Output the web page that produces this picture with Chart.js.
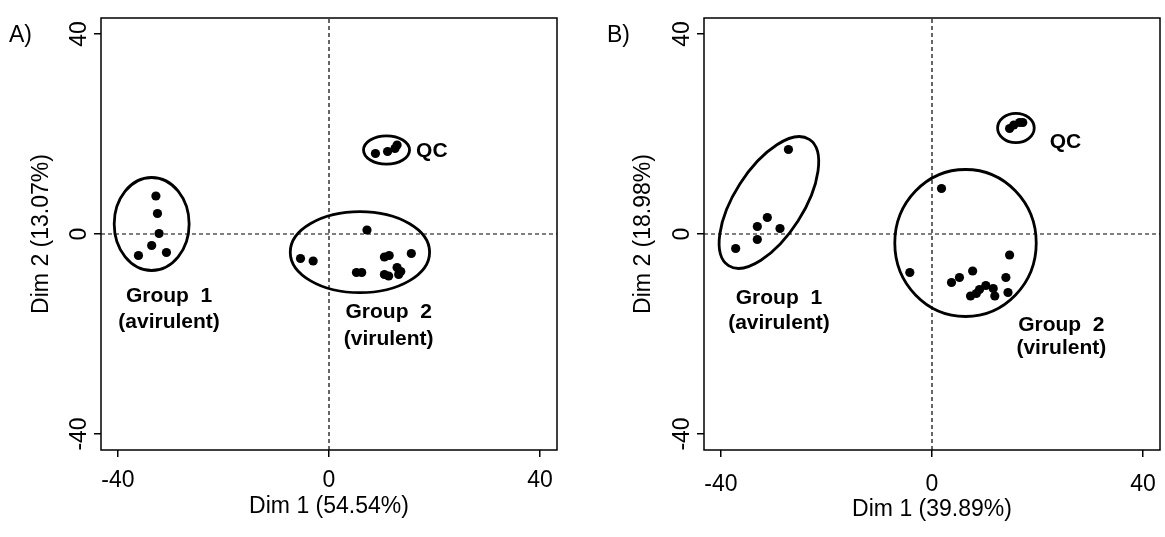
<!DOCTYPE html>
<html lang="en">
<head>
<meta charset="UTF-8">
<title>PCA scores</title>
<script src="https://cdn.jsdelivr.net/npm/chart.js"></script>
<style>
    body { margin: 0; background: #fff; }
    .janela { position: relative; width: 1165px; height: 537px; overflow: hidden; }
    .painel { position: absolute; top: 0; height: 537px; }
    .letra { position: absolute; top: 21px; font: 23px "Liberation Sans", Arial, sans-serif; color: #000; }
</style>
</head>
<body>
<div class="janela">
    <div class="painel" style="left:0; width:580px;"><canvas id="graficoA"></canvas></div>
    <div class="painel" style="left:580px; width:600px;"><canvas id="graficoB"></canvas></div>
    <div class="letra" style="left:9px;">A)</div>
    <div class="letra" style="left:607px;">B)</div>
</div>

<script>
    // axis range and ticks (same on both panels)
    const limite = 43.2;
    const tickValues = [-40, 0, 40];

    // panel A
    const aTituloX = 'Dim 1 (54.54%)';
    const aTituloY = 'Dim 2 (13.07%)';
    const aGrupo1X = [-32.8, -32.5, -32.2, -33.6, -36.1, -30.8];
    const aGrupo1Y = [7.6, 4.1, 0.1, -2.3, -4.3, -3.7];
    const aQcX = [8.8, 11.1, 12.9, 12.5];
    const aQcY = [16.1, 16.5, 17.8, 17.1];
    const aGrupo2X = [7.2, -5.4, -3.0, 5.2, 6.2, 10.5, 11.4, 15.6, 10.5, 11.3, 12.9, 13.6, 13.2];
    const aGrupo2Y = [0.8, -4.9, -5.4, -7.7, -7.7, -4.6, -4.3, -3.9, -8.1, -8.4, -6.7, -7.5, -8.1];

    // panel B
    const bTituloX = 'Dim 1 (39.89%)';
    const bTituloY = 'Dim 2 (18.98%)';
    const bGrupo1X = [-27.2, -31.2, -33.1, -28.8, -33.1, -37.2];
    const bGrupo1Y = [16.9, 3.3, 1.5, 1.1, -1.1, -2.9];
    const bQcX = [14.7, 15.5, 16.6, 17.2];
    const bQcY = [21.1, 21.8, 22.3, 22.3];
    const bGrupo2X = [1.8, 14.7, -4.2, 7.7, 5.2, 3.7, 14.0, 14.4, 7.3, 8.4, 9.0, 10.2, 11.6, 11.9];
    const bGrupo2Y = [9.1, -4.2, -7.7, -7.4, -8.7, -9.7, -8.7, -11.7, -12.4, -11.9, -11.1, -10.3, -10.9, -12.4];

    const fonte = '"Liberation Sans", Arial, sans-serif';
    Chart.defaults.font.family = fonte;
    Chart.defaults.color = '#000';

    function pontos(xs, ys) {
        let res = [];
        for (let i = 0; i < xs.length; i++) {
            res.push({ x: xs[i], y: ys[i] });
        }
        return res;
    }

    function grupo(xs, ys) {
        return {
            type: 'scatter',
            data: pontos(xs, ys),
            backgroundColor: '#000',
            borderColor: '#000',
            pointRadius: 4.6,
            pointHoverRadius: 4.6,
            borderWidth: 0
        };
    }

    function tracejada(dados) {
        return {
            type: 'line',
            data: dados,
            borderColor: '#000',
            borderWidth: 1.2,
            borderDash: [4, 3],
            pointRadius: 0,
            fill: false
        };
    }

    // ellipses, labels and the frame
    const extras = {
        id: 'extras',
        afterDatasetsDraw(chart, args, opts) {
            const ctx = chart.ctx;
            const a = chart.chartArea;
            const x = chart.scales.x;
            const y = chart.scales.y;

            ctx.save();
            ctx.strokeStyle = '#000';
            ctx.fillStyle = '#000';

            ctx.lineWidth = 1.5;
            ctx.strokeRect(a.left, a.top, a.right - a.left, a.bottom - a.top);

            ctx.lineWidth = 2.8;
            opts.elipses.forEach(function (e) {
                const cx = x.getPixelForValue(e.cx);
                const cy = y.getPixelForValue(e.cy);
                const rx = Math.abs(x.getPixelForValue(e.cx + e.rx) - cx);
                const ry = Math.abs(y.getPixelForValue(e.cy + e.ry) - cy);
                ctx.beginPath();
                ctx.ellipse(cx, cy, rx, ry, -(e.ang || 0) * Math.PI / 180, 0, 2 * Math.PI);
                ctx.stroke();
            });

            ctx.font = 'bold 21px ' + fonte;
            ctx.textBaseline = 'middle';
            opts.rotulos.forEach(function (r) {
                ctx.textAlign = r.align || 'center';
                ctx.fillText(r.t, x.getPixelForValue(r.x), y.getPixelForValue(r.y));
            });

            // vertical tick labels on the y axis
            ctx.font = '23px ' + fonte;
            ctx.textAlign = 'center';
            y.ticks.forEach(function (t) {
                ctx.save();
                ctx.translate(opts.yTickX, y.getPixelForValue(t.value));
                ctx.rotate(-Math.PI / 2);
                ctx.fillText(String(t.value), 0, 0);
                ctx.restore();
            });
            ctx.restore();
        }
    };

    function fixarTicks(scale) {
        scale.ticks = tickValues.map(function (v) { return { value: v }; });
    }

    function criarGrafico(id, cfg) {
        const config = {
            data: {
                datasets: [
                    tracejada([{ x: 0, y: -limite }, { x: 0, y: limite }]),
                    tracejada([{ x: -limite, y: 0 }, { x: limite, y: 0 }]),
                    grupo(cfg.g1x, cfg.g1y),
                    grupo(cfg.qcx, cfg.qcy),
                    grupo(cfg.g2x, cfg.g2y)
                ]
            },
            options: {
                responsive: true,
                maintainAspectRatio: false,
                animation: false,
                layout: { padding: { top: 18, right: cfg.padDir, left: 0, bottom: 0 } },
                plugins: {
                    legend: { display: false },
                    tooltip: { enabled: false },
                    extras: { elipses: cfg.elipses, rotulos: cfg.rotulos, yTickX: cfg.yTickX }
                },
                scales: {
                    x: {
                        type: 'linear',
                        min: -limite,
                        max: limite,
                        afterBuildTicks: fixarTicks,
                        afterFit: function (s) { s.height = 87; },
                        grid: { drawOnChartArea: false, drawTicks: true, tickLength: 7, color: '#000', lineWidth: 1.5 },
                        border: { display: false },
                        ticks: { font: { size: 23 }, padding: cfg.xTickPad, maxRotation: 0, autoSkip: false },
                        title: { display: true, text: cfg.tituloX, font: { size: 23 }, padding: { top: 0, bottom: cfg.xTitPad } }
                    },
                    y: {
                        type: 'linear',
                        min: -limite,
                        max: limite,
                        afterBuildTicks: fixarTicks,
                        afterFit: function (s) { s.width = cfg.larguraY; },
                        grid: { drawOnChartArea: false, drawTicks: true, tickLength: 7, color: '#000', lineWidth: 1.5 },
                        border: { display: false },
                        ticks: { display: false },
                        title: { display: true, text: cfg.tituloY, font: { size: 23 }, padding: { top: cfg.yTitPad, bottom: 0 } }
                    }
                }
            },
            plugins: [extras]
        };
        new Chart(document.getElementById(id), config);
    }

    criarGrafico('graficoA', {
        g1x: aGrupo1X, g1y: aGrupo1Y, qcx: aQcX, qcy: aQcY, g2x: aGrupo2X, g2y: aGrupo2Y,
        tituloX: aTituloX, tituloY: aTituloY,
        larguraY: 101, padDir: 23, yTickX: 80, xTickPad: 10, xTitPad: 17, yTitPad: 28,
        elipses: [
            { cx: -33.6, cy: 2.0, rx: 7.1, ry: 9.3 },
            { cx: 10.9, cy: 16.8, rx: 4.36, ry: 2.84 },
            { cx: 5.86, cy: -3.64, rx: 13.2, ry: 8.1 }
        ],
        rotulos: [
            { t: 'QC', x: 16.5, y: 16.6, align: 'left' },
            { t: 'Group  1', x: -30.3, y: -12.4 },
            { t: '(avirulent)', x: -30.3, y: -17.7 },
            { t: 'Group  2', x: 11.3, y: -15.7 },
            { t: '(virulent)', x: 11.3, y: -21.1 }
        ]
    });

    criarGrafico('graficoB', {
        g1x: bGrupo1X, g1y: bGrupo1Y, qcx: bQcX, qcy: bQcY, g2x: bGrupo2X, g2y: bGrupo2Y,
        tituloX: bTituloX, tituloY: bTituloY,
        larguraY: 124, padDir: 20, yTickX: 103, xTickPad: 14, xTitPad: 14, yTitPad: 50,
        elipses: [
            { cx: -30.9, cy: 6.3, rx: 14.2, ry: 6.9, ang: 57.4 },
            { cx: 15.9, cy: 21.2, rx: 3.47, ry: 2.94 },
            { cx: 6.35, cy: -1.8, rx: 13.4, ry: 14.7 }
        ],
        rotulos: [
            { t: 'QC', x: 22.3, y: 18.4, align: 'left' },
            { t: 'Group  1', x: -29.0, y: -12.9 },
            { t: '(avirulent)', x: -29.0, y: -17.9 },
            { t: 'Group  2', x: 24.5, y: -18.2 },
            { t: '(virulent)', x: 24.5, y: -22.9 }
        ]
    });
</script>
</body>
</html>
